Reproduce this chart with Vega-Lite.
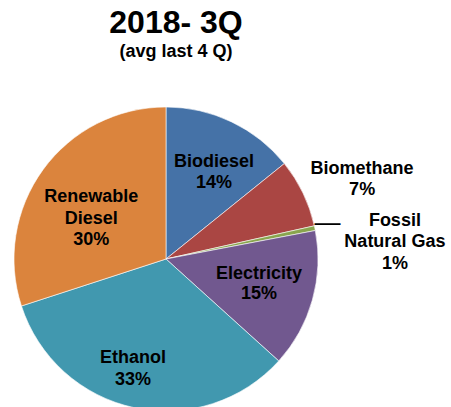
{
 "$schema": "https://vega.github.io/schema/vega-lite/v6.json",
 "width": 332, "height": 394,
 "autosize": {"type": "none"},
 "padding": {"top": 62, "left": 0, "right": 119, "bottom": 0},
 "title": {"text": "2018- 3Q", "subtitle": "(avg last 4 Q)", "font": "Liberation Sans", "fontSize": 32, "fontWeight": "bold", "color": "#000000", "subtitleFont": "Liberation Sans", "subtitleFontSize": 18, "subtitleFontWeight": "bold", "subtitleColor": "#000000", "anchor": "middle", "dx": 10, "offset": 0, "subtitlePadding": 3},
 "data": {"values": [
  {"fuel": "Biodiesel", "value": 14.2, "order": 1, "label": "Biodiesel\n14%"},
  {"fuel": "Biomethane", "value": 7.3, "order": 2, "label": "Biomethane\n7%"},
  {"fuel": "Fossil Natural Gas", "value": 0.5, "order": 3, "label": "Fossil\nNatural Gas\n1%"},
  {"fuel": "Electricity", "value": 14.7, "order": 4, "label": "Electricity\n15%"},
  {"fuel": "Ethanol", "value": 33.3, "order": 5, "label": "Ethanol\n33%"},
  {"fuel": "Renewable Diesel", "value": 30.0, "order": 6, "label": "Renewable\nDiesel\n30%"}
 ]},
 "encoding": {
  "theta": {"field": "value", "type": "quantitative", "stack": true},
  "order": {"field": "order", "type": "quantitative"}
 },
 "layer": [
  {"mark": {"type": "arc", "outerRadius": 152, "stroke": "#ffffff", "strokeWidth": 0.6},
   "encoding": {"color": {"field": "fuel", "type": "nominal", "legend": null,
     "scale": {"domain": ["Biodiesel", "Biomethane", "Fossil Natural Gas", "Electricity", "Ethanol", "Renewable Diesel"],
               "range": ["#4572A7", "#AA4643", "#89A54E", "#71588F", "#4198AF", "#DB843D"]}}}},
  {"mark": {"type": "text", "radius": 98.5, "dx": 5.5, "dy": -8, "font": "Liberation Sans", "fontSize": 18, "fontWeight": "bold", "lineBreak": "\n", "lineHeight": 21, "fill": "#000000", "baseline": "middle", "align": "center"},
   "encoding": {"detail": {"field": "fuel"}, "text": {"condition": {"test": "datum.fuel === 'Biodiesel'", "field": "label"}, "value": ""}}},
  {"mark": {"type": "text", "radius": 150, "dx": 61, "dy": -25, "font": "Liberation Sans", "fontSize": 18, "fontWeight": "bold", "lineBreak": "\n", "lineHeight": 21, "fill": "#000000", "baseline": "middle", "align": "center"},
   "encoding": {"detail": {"field": "fuel"}, "text": {"condition": {"test": "datum.fuel === 'Biomethane'", "field": "label"}, "value": ""}}},
  {"mark": {"type": "text", "radius": 150, "dx": 82, "dy": -7.6, "font": "Liberation Sans", "fontSize": 18, "fontWeight": "bold", "lineBreak": "\n", "lineHeight": 21.5, "fill": "#000000", "baseline": "middle", "align": "center"},
   "encoding": {"detail": {"field": "fuel"}, "text": {"condition": {"test": "datum.fuel === 'Fossil Natural Gas'", "field": "label"}, "value": ""}}},
  {"mark": {"type": "text", "radius": 165, "dx": 0, "dy": -3, "font": "Liberation Sans", "fontSize": 26, "fontWeight": "normal", "fill": "#000000", "baseline": "middle", "align": "center"},
   "encoding": {"detail": {"field": "fuel"}, "text": {"condition": {"test": "datum.fuel === 'Fossil Natural Gas'", "value": "—"}, "value": ""}}},
  {"mark": {"type": "text", "radius": 96.6, "dx": 0, "dy": -11, "font": "Liberation Sans", "fontSize": 18, "fontWeight": "bold", "lineBreak": "\n", "lineHeight": 20, "fill": "#000000", "baseline": "middle", "align": "center"},
   "encoding": {"detail": {"field": "fuel"}, "text": {"condition": {"test": "datum.fuel === 'Electricity'", "field": "label"}, "value": ""}}},
  {"mark": {"type": "text", "radius": 115, "dx": -9, "dy": -13, "font": "Liberation Sans", "fontSize": 18, "fontWeight": "bold", "lineBreak": "\n", "lineHeight": 21.5, "fill": "#000000", "baseline": "middle", "align": "center"},
   "encoding": {"detail": {"field": "fuel"}, "text": {"condition": {"test": "datum.fuel === 'Ethanol'", "field": "label"}, "value": ""}}},
  {"mark": {"type": "text", "radius": 85, "dx": -6, "dy": -12, "font": "Liberation Sans", "fontSize": 18, "fontWeight": "bold", "lineBreak": "\n", "lineHeight": 21.5, "fill": "#000000", "baseline": "middle", "align": "center"},
   "encoding": {"detail": {"field": "fuel"}, "text": {"condition": {"test": "datum.fuel === 'Renewable Diesel'", "field": "label"}, "value": ""}}}
 ],
 "config": {"view": {"stroke": null}}
}
